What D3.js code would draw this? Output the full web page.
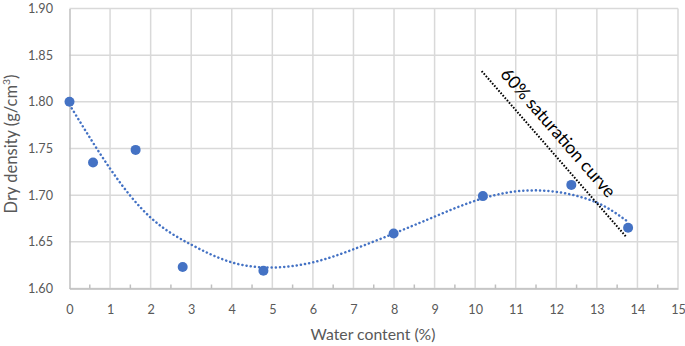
<!DOCTYPE html>
<html>
<head>
<meta charset="utf-8">
<script src="https://cdn.jsdelivr.net/npm/d3@7"></script>
<style>
  body { margin: 0; background: #fff; }
  svg text { font-family: Lato, "Open Sans", sans-serif; }
</style>
</head>
<body>
<div id="chart"></div>
<script>
// measured points
const waterContent = [0, 0.58, 1.63, 2.79, 4.78, 7.99, 10.19, 12.37, 13.77];
const dryDensity = [1.800, 1.735, 1.7485, 1.623, 1.619, 1.659, 1.699, 1.711, 1.665];

// dotted trendline
const trendX = [0, 1, 2, 3, 4, 5, 6, 7, 8, 9, 10, 11, 12, 13, 13.75];
const trendY = [1.797, 1.7285, 1.676, 1.647, 1.628, 1.6225, 1.628, 1.642, 1.659, 1.677, 1.694, 1.704, 1.7035, 1.692, 1.672];

// 60% saturation line
const satX = [10.16, 13.73];
const satY = [1.833, 1.655];
const satLabel = '60% saturation curve';

const xTicks = d3.range(0, 16, 1);
const yTicks = [1.60, 1.65, 1.70, 1.75, 1.80, 1.85, 1.90];

const width = 685, height = 346;
const margin = { top: 8.5, right: 7, bottom: 57.5, left: 69.5 };
const chartWidth = width - margin.left - margin.right;
const chartHeight = height - margin.top - margin.bottom;

const svg = d3.select('#chart')
  .append('svg')
  .attr('width', width)
  .attr('height', height);

const g = svg.append('g')
  .attr('transform', `translate(${margin.left},${margin.top})`);

const xScale = d3.scaleLinear().domain([0, 15]).range([0, chartWidth]);
const yScale = d3.scaleLinear().domain([1.60, 1.90]).range([chartHeight, 0]);

const gridColor = '#d9d9d9';
const axisColor = '#bfbfbf';
const textColor = '#595959';
const blue = '#4472c4';

// scale a text's font so it spans the given width
function fitText(sel, target) {
  const size = parseFloat(sel.style('font-size'));
  const w = sel.node().getComputedTextLength();
  const k = target / w;
  sel.style('font-size', (size * k) + 'px');
  sel.selectAll('tspan').each(function () {
    const t = d3.select(this);
    if (this.style.fontSize) t.style('font-size', (parseFloat(this.style.fontSize) * k) + 'px');
    const dy = t.attr('dy');
    if (dy) t.attr('dy', parseFloat(dy) * k);
  });
  return size * k;
}

// gridlines
g.selectAll('.hgrid')
  .data(yTicks)
  .enter()
  .append('line')
  .attr('x1', 0)
  .attr('x2', chartWidth)
  .attr('y1', d => yScale(d))
  .attr('y2', d => yScale(d))
  .attr('stroke', gridColor)
  .attr('stroke-width', 1.5);

g.selectAll('.vgrid')
  .data(xTicks.slice(1))
  .enter()
  .append('line')
  .attr('x1', d => xScale(d))
  .attr('x2', d => xScale(d))
  .attr('y1', 0)
  .attr('y2', chartHeight)
  .attr('stroke', gridColor)
  .attr('stroke-width', 1.5);

// tick label size from the width of "1.90"
const probe = svg.append('text').style('font-size', '13px').text('1.90');
const tickSize = fitText(probe, 25);
probe.remove();

// axes
const xAxis = d3.axisBottom(xScale).tickValues(xTicks).tickSize(0).tickFormat(d3.format('d'));
const yAxis = d3.axisLeft(yScale).tickValues(yTicks).tickSize(0).tickPadding(16.5).tickFormat(d3.format('.2f'));

const gx = g.append('g')
  .attr('transform', `translate(0,${chartHeight})`)
  .call(xAxis);
gx.select('.domain').attr('stroke', axisColor).attr('stroke-width', 1.5);
gx.selectAll('text')
  .attr('y', 25)
  .attr('dy', null)
  .style('fill', textColor)
  .style('font-size', tickSize + 'px');

const gy = g.append('g').call(yAxis);
gy.select('.domain').attr('stroke', axisColor).attr('stroke-width', 1.5);
gy.selectAll('text').style('fill', textColor).style('font-size', tickSize + 'px');

// minor ticks on x axis
g.selectAll('.minor')
  .data(xTicks.slice(0, -1).map(d => d + 0.5))
  .enter()
  .append('line')
  .attr('x1', d => xScale(d))
  .attr('x2', d => xScale(d))
  .attr('y1', chartHeight)
  .attr('y2', chartHeight - 4)
  .attr('stroke', axisColor)
  .attr('stroke-width', 1.5);

// axis titles
const xTitle = svg.append('text')
  .attr('x', 373)
  .attr('y', 340)
  .attr('text-anchor', 'middle')
  .style('fill', textColor)
  .style('font-size', '16px')
  .text('Water content (%)');
fitText(xTitle, 125);

const yTitle = svg.append('text')
  .attr('transform', 'translate(16.5,144) rotate(-90)')
  .attr('text-anchor', 'middle')
  .style('fill', textColor)
  .style('font-size', '16px');
yTitle.append('tspan').text('Dry density (g/cm');
yTitle.append('tspan').attr('dy', -6).style('font-size', '10px').text('3');
yTitle.append('tspan').attr('dy', 6).text(')');
fitText(yTitle, 139);

// trendline
const trendData = trendX.map((x, i) => ({ x, y: trendY[i] }));
g.append('path')
  .datum(trendData)
  .attr('fill', 'none')
  .attr('stroke', blue)
  .attr('stroke-width', 2.5)
  .attr('stroke-dasharray', '0.1,4.1')
  .attr('stroke-linecap', 'round')
  .attr('d', d3.line().x(d => xScale(d.x)).y(d => yScale(d.y)).curve(d3.curveNatural));

// saturation line
const sx0 = xScale(satX[0]), sy0 = yScale(satY[0]);
const sx1 = xScale(satX[1]), sy1 = yScale(satY[1]);
g.append('line')
  .attr('x1', sx0)
  .attr('y1', sy0)
  .attr('x2', sx1)
  .attr('y2', sy1)
  .attr('stroke', '#000')
  .attr('stroke-width', 2)
  .attr('stroke-dasharray', '1.6,1.6');

const len = Math.hypot(sx1 - sx0, sy1 - sy0);
const ux = (sx1 - sx0) / len, uy = (sy1 - sy0) / len;
const ang = Math.atan2(uy, ux) * 180 / Math.PI;
const cx = (sx0 + sx1) / 2 - 13.3 * ux + 11 * uy;
const cy = (sy0 + sy1) / 2 - 13.3 * uy - 11 * ux;
const satText = g.append('text')
  .attr('transform', `translate(${cx},${cy}) rotate(${ang})`)
  .attr('text-anchor', 'middle')
  .style('fill', '#000')
  .style('font-size', '16px')
  .text(satLabel);
fitText(satText, 164.5);

// points
const points = waterContent.map((x, i) => ({ x, y: dryDensity[i] }));
g.selectAll('.dot')
  .data(points)
  .enter()
  .append('circle')
  .attr('cx', d => xScale(d.x))
  .attr('cy', d => yScale(d.y))
  .attr('r', 5)
  .attr('fill', blue);
</script>
</body>
</html>
